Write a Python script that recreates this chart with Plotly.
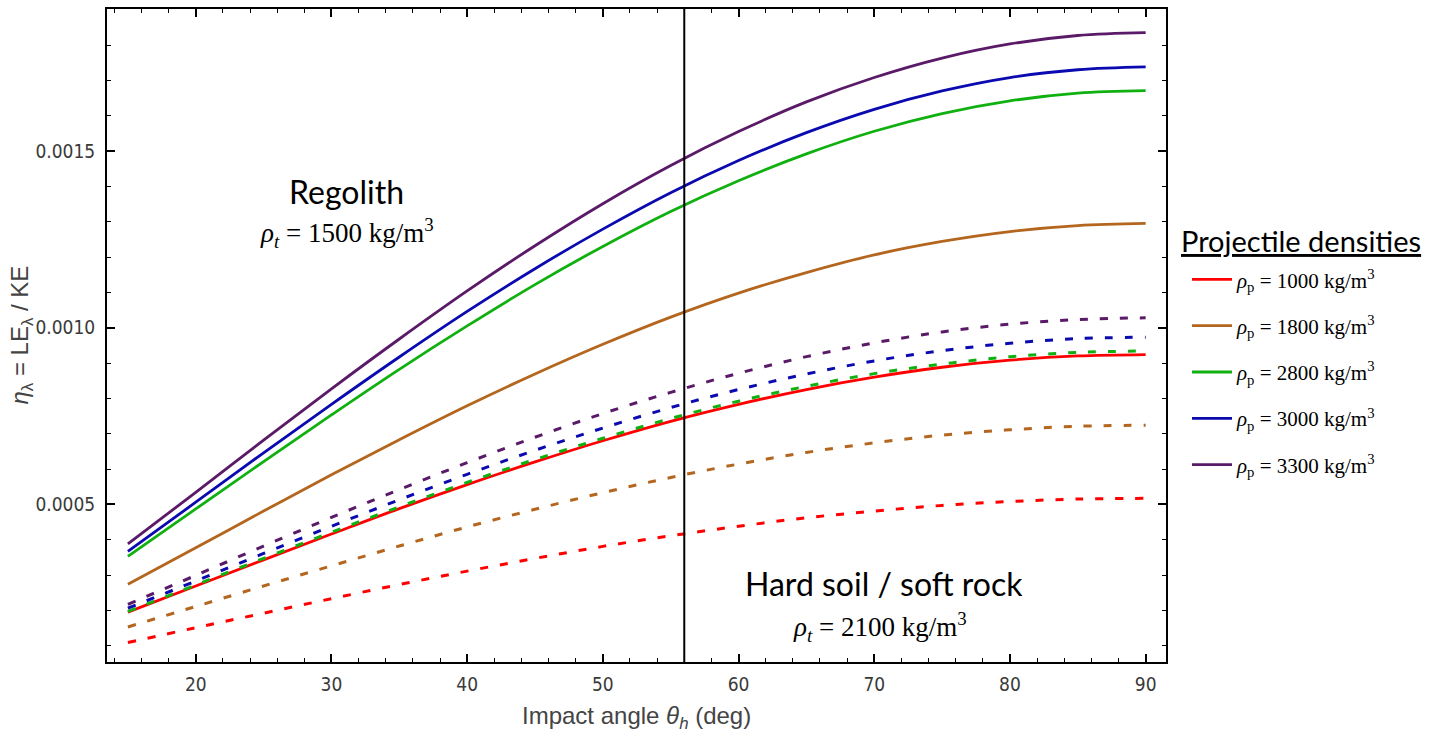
import plotly.graph_objects as go

# Impact angle (deg)
angle = [15, 20, 25, 30, 35, 40, 45, 50, 55, 60, 65, 70, 75, 80, 85, 90]

# Regolith target (rho_t = 1500) -> solid lines
reg_1000 = [0.000195, 0.000269, 0.000343, 0.000416, 0.000488, 0.000556, 0.000620, 0.000680, 0.000735, 0.000783, 0.000825, 0.000860, 0.000888, 0.000908, 0.000920, 0.000924]
reg_1800 = [0.000274, 0.000377, 0.000481, 0.000584, 0.000683, 0.000779, 0.000869, 0.000953, 0.001030, 0.001098, 0.001156, 0.001206, 0.001244, 0.001272, 0.001289, 0.001295]
reg_2800 = [0.000353, 0.000487, 0.000621, 0.000753, 0.000882, 0.001005, 0.001122, 0.001230, 0.001329, 0.001416, 0.001492, 0.001556, 0.001606, 0.001642, 0.001664, 0.001671]
reg_3000 = [0.000367, 0.000506, 0.000646, 0.000783, 0.000917, 0.001046, 0.001167, 0.001279, 0.001382, 0.001473, 0.001552, 0.001618, 0.001670, 0.001708, 0.001730, 0.001738]
reg_3300 = [0.000388, 0.000534, 0.000682, 0.000827, 0.000968, 0.001104, 0.001232, 0.001351, 0.001459, 0.001555, 0.001639, 0.001708, 0.001763, 0.001803, 0.001827, 0.001835]

# Hard soil / soft rock target (rho_t = 2100) -> dashed lines
hard_1000 = [0.000109, 0.000151, 0.000192, 0.000233, 0.000273, 0.000311, 0.000347, 0.000381, 0.000411, 0.000438, 0.000462, 0.000481, 0.000497, 0.000508, 0.000515, 0.000517]
hard_1800 = [0.000153, 0.000211, 0.000269, 0.000326, 0.000382, 0.000436, 0.000486, 0.000533, 0.000576, 0.000614, 0.000647, 0.000674, 0.000696, 0.000711, 0.000721, 0.000724]
hard_2800 = [0.000197, 0.000272, 0.000347, 0.000421, 0.000493, 0.000562, 0.000627, 0.000687, 0.000743, 0.000792, 0.000834, 0.000870, 0.000897, 0.000918, 0.000930, 0.000934]
hard_3000 = [0.000206, 0.000283, 0.000361, 0.000438, 0.000513, 0.000585, 0.000653, 0.000716, 0.000774, 0.000825, 0.000869, 0.000906, 0.000935, 0.000956, 0.000969, 0.000973]
hard_3300 = [0.000217, 0.000299, 0.000382, 0.000463, 0.000542, 0.000618, 0.000690, 0.000757, 0.000817, 0.000871, 0.000918, 0.000957, 0.000988, 0.001010, 0.001023, 0.001028]

densities = ["1000", "1800", "2800", "3000", "3300"]
colors = ["#ff0000", "#b4661e", "#10b010", "#0a0ab0", "#5a1a68"]
reg_series = [reg_1000, reg_1800, reg_2800, reg_3000, reg_3300]
hard_series = [hard_1000, hard_1800, hard_2800, hard_3000, hard_3300]
boundary_angle = 56

fig = go.Figure()
for d, c, ys in zip(densities, colors, reg_series):
    fig.add_trace(go.Scatter(
        x=angle, y=ys, mode="lines", line=dict(color=c, width=2.8, shape="spline"),
        name="<i>ρ</i><sub>p</sub> = " + d + " kg/m<sup>3</sup>", legendgroup=d,
    ))
for d, c, ys in zip(densities, colors, hard_series):
    fig.add_trace(go.Scatter(
        x=angle, y=ys, mode="lines",
        line=dict(color=c, width=3, shape="spline", dash="8px,12px"),
        showlegend=False, legendgroup=d,
    ))

tickfont = dict(family="Liberation Sans Narrow, DejaVu Sans Condensed, Liberation Sans", size=19, color="#3a3a3a")
axis_common = dict(
    showline=True, linecolor="black", linewidth=2, mirror="allticks",
    ticks="inside", ticklen=8, tickwidth=1.5, tickcolor="black",
    showgrid=False, zeroline=False, tickfont=tickfont,
)
fig.update_xaxes(range=[13.46, 91.5], tick0=0, dtick=10,
                 minor=dict(dtick=2, tick0=0, ticks="inside", ticklen=4, tickwidth=1.2, tickcolor="black"),
                 ticklabelstandoff=4, **axis_common)
fig.update_yaxes(range=[0.0000538, 0.001902], tick0=0, dtick=0.0005, tickformat=".4f",
                 minor=dict(dtick=0.0001, tick0=0, ticks="inside", ticklen=4, tickwidth=1.2, tickcolor="black"),
                 ticklabelstandoff=6, **axis_common)

fig.add_shape(type="line", xref="x", yref="paper", x0=boundary_angle, x1=boundary_angle, y0=0, y1=1,
              line=dict(color="black", width=2), layer="above")

ann_sans = "Lato, Open Sans, sans-serif"
ann_serif = "Liberation Serif, Times New Roman, serif"
annots = [
    dict(x=346, y=190, text="Regolith", font=dict(family=ann_sans, size=32, color="black")),
    dict(x=347, y=232, text="<i>ρ</i><sub><i>t</i></sub> = 1500 kg/m<sup>3</sup>", font=dict(family=ann_serif, size=27, color="black")),
    dict(x=884, y=583, text="Hard soil / soft rock", font=dict(family=ann_sans, size=32, color="black")),
    dict(x=880, y=627, text="<i>ρ</i><sub><i>t</i></sub> = 2100 kg/m<sup>3</sup>", font=dict(family=ann_serif, size=27, color="black")),
    dict(x=1301, y=239, text="<u>Projectile densities</u>", font=dict(family=ann_sans, size=29, color="black")),
]
W, H = 1435, 733
L, R, T, B = 107, 269, 7, 71
pw, ph = W - L - R, H - T - B
for a in annots:
    fig.add_annotation(x=(a["x"] - L) / pw, y=1 - (a["y"] - T) / ph, xref="paper", yref="paper",
                       text=a["text"], showarrow=False, font=a["font"], xanchor="center", yanchor="middle")

# axis titles
fig.add_annotation(x=0.5, y=-(718 - (H - B)) / ph, xref="paper", yref="paper", showarrow=False,
                   text="Impact angle <i>θ<sub>h</sub></i> (deg)", xanchor="center", yanchor="middle",
                   font=dict(family="Liberation Sans, DejaVu Sans", size=24, color="#444444"))
fig.add_annotation(x=-(L - 21) / pw, y=0.5, xref="paper", yref="paper", showarrow=False, textangle=-90,
                   text="<i>η</i><sub>λ</sub> = LE<sub>λ</sub> / KE", xanchor="center", yanchor="middle",
                   font=dict(family="Liberation Sans, DejaVu Sans", size=24, color="#444444"))

fig.update_layout(
    width=W, height=H, margin=dict(l=L, r=R, t=T, b=B),
    plot_bgcolor="white", paper_bgcolor="white",
    legend=dict(
        x=(1187 - L) / pw, y=1 - (258 - T) / ph, xanchor="left", yanchor="top",
        font=dict(family=ann_serif, size=21, color="black"),
        itemwidth=40, tracegroupgap=16, bgcolor="rgba(0,0,0,0)",
    ),
)
fig.write_html("out.html")
